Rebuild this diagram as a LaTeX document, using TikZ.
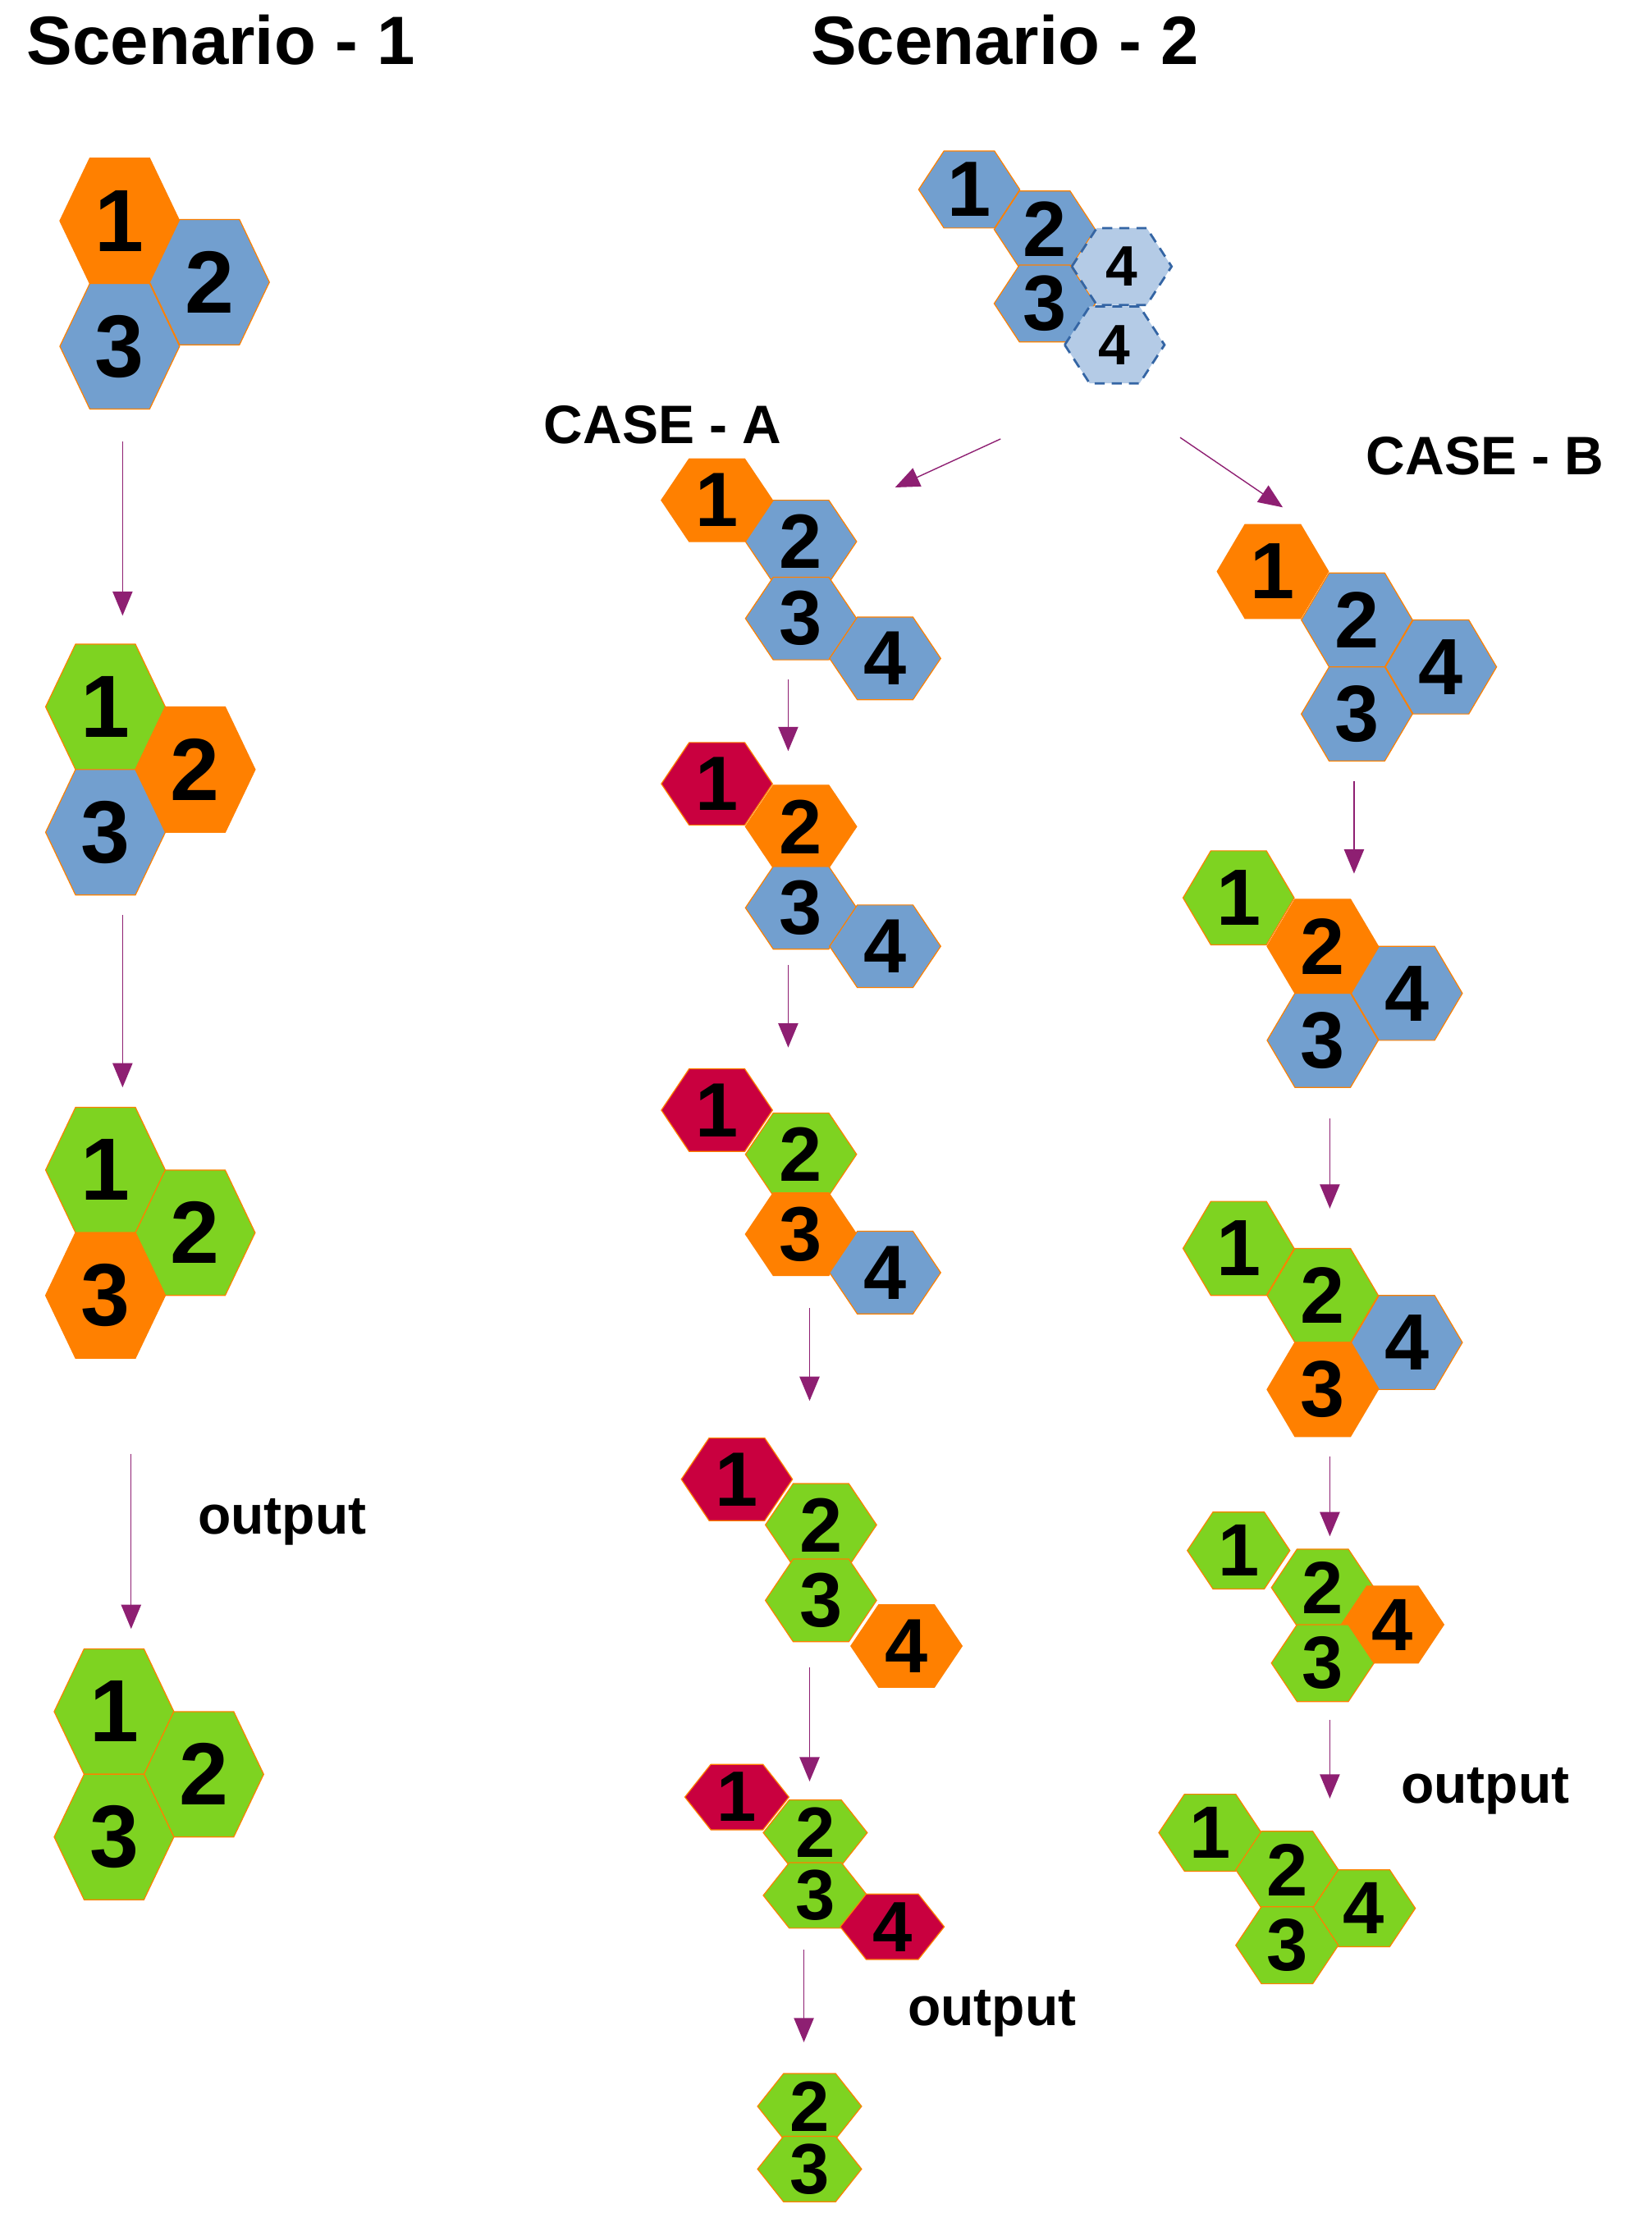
\documentclass[tikz,border=0pt]{standalone}
\usepackage{fontspec}
\setmainfont{Liberation Sans}
\usetikzlibrary{arrows.meta}
\definecolor{cor}{HTML}{FF8000}
\definecolor{cbl}{HTML}{729FCF}
\definecolor{cgr}{HTML}{7ED321}
\definecolor{crd}{HTML}{C9003F}
\definecolor{clb}{HTML}{B4CBE6}
\definecolor{cdb}{HTML}{3465A4}
\definecolor{carr}{HTML}{8E1F72}
\tikzset{
  hexline/.style={draw=cor,line width=0.7pt},
  num/.style={inner sep=0pt,text=black},
  arr/.style={draw=carr,line width=0.8pt,-{Triangle[length=17pt,width=14pt]}},
  title/.style={inner sep=0pt,font=\fontsize{48}{48}\selectfont\bfseries},
  lab/.style={inner sep=0pt,font=\fontsize{38}{38}\selectfont\bfseries},
}
% name, x, y, w, h, fill, label, fontsize
\newcommand\hx[8]{%
  \path[fill=#6,hexline] ({#2-#4/2},#3) -- ({#2-#4/4},{#3-#5/2}) -- ({#2+#4/4},{#3-#5/2}) -- ({#2+#4/2},#3) -- ({#2+#4/4},{#3+#5/2}) -- ({#2-#4/4},{#3+#5/2}) -- cycle;
  \node[num,font=\fontsize{#8}{#8}\selectfont\bfseries] (#1) at (#2,#3) {#7};}
\newcommand\dhx[4]{%
  \path[fill=clb,draw=cdb,line width=1.6pt,dash pattern=on 7pt off 5pt] ({#2-35},#3) -- ({#2-17.5},{#3-27}) -- ({#2+17.5},{#3-27}) -- ({#2+35},#3) -- ({#2+17.5},{#3+27}) -- ({#2-17.5},{#3+27}) -- cycle;
  \node[num,font=\fontsize{40}{40}\selectfont\bfseries] (#1) at (#2,#3) {#4};}
\begin{document}
\begin{tikzpicture}[x=1pt,y=-1pt]
\useasboundingbox (0,0) rectangle (1159,1569);
\node[title] (t1) at (155,28) {Scenario - 1};
\node[title] (t2) at (705,28) {Scenario - 2};
% Scenario 1
\def\W{84}\def\H{88}\def\F{62}
\hx{s1a}{84}{155}{\W}{\H}{cor}{1}{\F}
\hx{s1b}{147}{198}{\W}{\H}{cbl}{2}{\F}
\hx{s1c}{84}{243}{\W}{\H}{cbl}{3}{\F}
\hx{s2a}{74}{496}{\W}{\H}{cgr}{1}{\F}
\hx{s2b}{137}{540}{\W}{\H}{cor}{2}{\F}
\hx{s2c}{74}{584}{\W}{\H}{cbl}{3}{\F}
\hx{s3a}{74}{821}{\W}{\H}{cgr}{1}{\F}
\hx{s3b}{137}{865}{\W}{\H}{cgr}{2}{\F}
\hx{s3c}{74}{909}{\W}{\H}{cor}{3}{\F}
\hx{s4a}{80}{1201}{\W}{\H}{cgr}{1}{\F}
\hx{s4b}{143}{1245}{\W}{\H}{cgr}{2}{\F}
\hx{s4c}{80}{1289}{\W}{\H}{cgr}{3}{\F}
\coordinate (p1) at (86,310); \coordinate (q1) at (86,432);
\coordinate (p2) at (86,642); \coordinate (q2) at (86,763);
\coordinate (p3) at (92,1020); \coordinate (q3) at (92,1143);
\draw[arr] (p1) -- (q1); \draw[arr] (p2) -- (q2); \draw[arr] (p3) -- (q3);
\node[lab] (o1) at (198,1068) {output};
% Scenario 2 top
\hx{ta}{680}{133}{71}{54}{cbl}{1}{55}
\hx{tb}{733}{161}{71}{54}{cbl}{2}{55}
\hx{tc}{733}{213}{71}{54}{cbl}{3}{55}
\dhx{td}{787}{187}{4}
\dhx{te}{782}{242}{4}
\node[lab] (ca) at (465,298) {CASE - A};
\node[lab] (cb) at (1042,320) {CASE - B};
\coordinate (pa) at (702,308); \coordinate (qa) at (628,342);
\coordinate (pb) at (828,307); \coordinate (qb) at (900,356);
\draw[arr] (pa) -- (qa); \draw[arr] (pb) -- (qb);
% Case A
\def\W{78}\def\H{58}\def\F{54}
\hx{a1a}{503}{351}{\W}{\H}{cor}{1}{\F}
\hx{a1b}{562}{380}{\W}{\H}{cbl}{2}{\F}
\hx{a1c}{562}{434}{\W}{\H}{cbl}{3}{\F}
\hx{a1d}{621}{462}{\W}{\H}{cbl}{4}{\F}
\hx{a2a}{503}{550}{\W}{\H}{crd}{1}{\F}
\hx{a2b}{562}{580}{\W}{\H}{cor}{2}{\F}
\hx{a2c}{562}{637}{\W}{\H}{cbl}{3}{\F}
\hx{a2d}{621}{664}{\W}{\H}{cbl}{4}{\F}
\hx{a3a}{503}{779}{\W}{\H}{crd}{1}{\F}
\hx{a3b}{562}{810}{\W}{\H}{cgr}{2}{\F}
\hx{a3c}{562}{866}{\W}{\H}{cor}{3}{\F}
\hx{a3d}{621}{893}{\W}{\H}{cbl}{4}{\F}
\hx{a4a}{517}{1038}{\W}{\H}{crd}{1}{\F}
\hx{a4b}{576}{1070}{\W}{\H}{cgr}{2}{\F}
\hx{a4c}{576}{1123}{\W}{\H}{cgr}{3}{\F}
\hx{a4d}{636}{1155}{\W}{\H}{cor}{4}{\F}
\def\W{73}\def\H{46}\def\F{50}
\hx{a5a}{517}{1261}{\W}{\H}{crd}{1}{\F}
\hx{a5b}{572}{1286}{\W}{\H}{cgr}{2}{\F}
\hx{a5c}{572}{1330}{\W}{\H}{cgr}{3}{\F}
\hx{a5d}{626}{1352}{\W}{\H}{crd}{4}{\F}
\hx{a6b}{568}{1478}{\W}{\H}{cgr}{2}{\F}
\hx{a6c}{568}{1522}{\W}{\H}{cgr}{3}{\F}
\coordinate (pa1) at (553,477); \coordinate (qa1) at (553,527);
\coordinate (pa2) at (553,677); \coordinate (qa2) at (553,735);
\coordinate (pa3) at (568,918); \coordinate (qa3) at (568,983);
\coordinate (pa4) at (568,1170); \coordinate (qa4) at (568,1250);
\coordinate (pa5) at (564,1368); \coordinate (qa5) at (564,1433);
\draw[arr] (pa1) -- (qa1); \draw[arr] (pa2) -- (qa2); \draw[arr] (pa3) -- (qa3);
\draw[arr] (pa4) -- (qa4); \draw[arr] (pa5) -- (qa5);
\node[lab] (o2) at (696,1413) {output};
% Case B
\def\W{78}\def\H{66}\def\F{56}
\hx{b1a}{893}{401}{\W}{\H}{cor}{1}{\F}
\hx{b1b}{952}{435}{\W}{\H}{cbl}{2}{\F}
\hx{b1d}{1011}{468}{\W}{\H}{cbl}{4}{\F}
\hx{b1c}{952}{501}{\W}{\H}{cbl}{3}{\F}
\hx{b2a}{869}{630}{\W}{\H}{cgr}{1}{\F}
\hx{b2b}{928}{664}{\W}{\H}{cor}{2}{\F}
\hx{b2d}{987}{697}{\W}{\H}{cbl}{4}{\F}
\hx{b2c}{928}{730}{\W}{\H}{cbl}{3}{\F}
\hx{b3a}{869}{876}{\W}{\H}{cgr}{1}{\F}
\hx{b3b}{928}{909}{\W}{\H}{cgr}{2}{\F}
\hx{b3d}{987}{942}{\W}{\H}{cbl}{4}{\F}
\hx{b3c}{928}{975}{\W}{\H}{cor}{3}{\F}
\def\W{72}\def\H{54}\def\F{52}
\hx{b4a}{869}{1088}{\W}{\H}{cgr}{1}{\F}
\hx{b4b}{928}{1114}{\W}{\H}{cgr}{2}{\F}
\hx{b4d}{977}{1140}{\W}{\H}{cor}{4}{\F}
\hx{b4c}{928}{1167}{\W}{\H}{cgr}{3}{\F}
\hx{b5a}{849}{1286}{\W}{\H}{cgr}{1}{\F}
\hx{b5b}{903}{1312}{\W}{\H}{cgr}{2}{\F}
\hx{b5d}{957}{1339}{\W}{\H}{cgr}{4}{\F}
\hx{b5c}{903}{1365}{\W}{\H}{cgr}{3}{\F}
\coordinate (pb1) at (950,548); \coordinate (qb1) at (950,613);
\coordinate (pb2) at (933,785); \coordinate (qb2) at (933,848);
\coordinate (pb3) at (933,1022); \coordinate (qb3) at (933,1078);
\coordinate (pb4) at (933,1207); \coordinate (qb4) at (933,1262);
\draw[arr] (pb1) -- (qb1); \draw[arr] (pb2) -- (qb2); \draw[arr] (pb3) -- (qb3); \draw[arr] (pb4) -- (qb4);
\node[lab] (o3) at (1042,1257) {output};
\end{tikzpicture}
\end{document}
